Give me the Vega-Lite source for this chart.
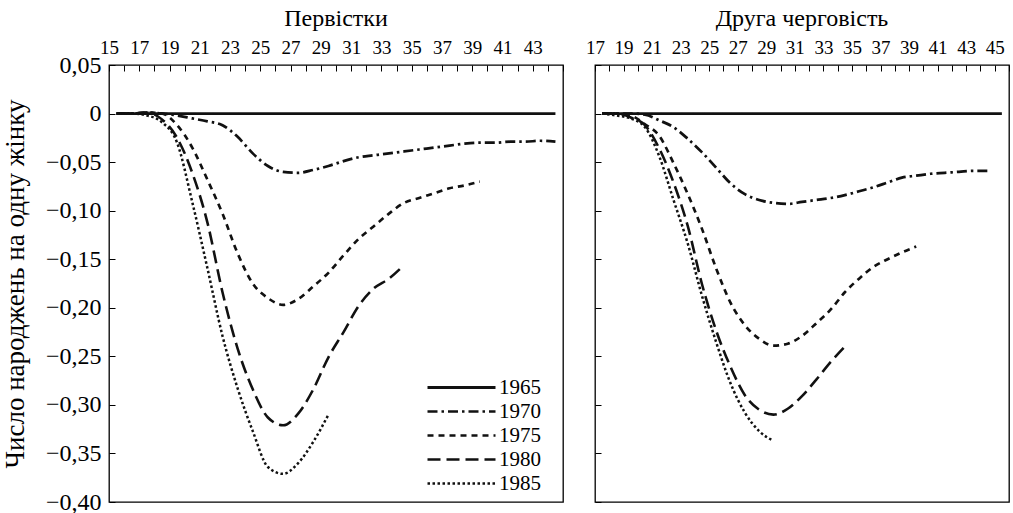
{
  "$schema": "https://vega.github.io/schema/vega-lite/v6.json",
  "background": "white",
  "padding": {"left": 0, "top": 6, "right": 5, "bottom": 5},
  "config": {
    "font": "Liberation Serif",
    "view": {"stroke": "#000", "strokeWidth": 1.3},
    "axis": {"tickColor": "#000", "labelColor": "#000", "titleColor": "#000", "tickWidth": 1, "grid": false, "domain": false, "labelFont": "Liberation Serif", "titleFont": "Liberation Serif", "titleFontWeight": "normal"},
    "legend": {"labelFont": "Liberation Serif"},
    "title": {"font": "Liberation Serif", "fontWeight": "normal", "color": "#000", "fontSize": 24, "frame": "group", "offset": 7},
    "concat": {"spacing": 19}
  },
  "data": {"values": [
    {"p":1,"y":"1965","a":15,"v":0},{"p":1,"y":"1965","a":16,"v":0},{"p":1,"y":"1965","a":17,"v":0},{"p":1,"y":"1965","a":18,"v":0},{"p":1,"y":"1965","a":19,"v":0},{"p":1,"y":"1965","a":20,"v":0},{"p":1,"y":"1965","a":21,"v":0},{"p":1,"y":"1965","a":22,"v":0},{"p":1,"y":"1965","a":23,"v":0},{"p":1,"y":"1965","a":24,"v":0},{"p":1,"y":"1965","a":25,"v":0},{"p":1,"y":"1965","a":26,"v":0},{"p":1,"y":"1965","a":27,"v":0},{"p":1,"y":"1965","a":28,"v":0},{"p":1,"y":"1965","a":29,"v":0},{"p":1,"y":"1965","a":30,"v":0},{"p":1,"y":"1965","a":31,"v":0},{"p":1,"y":"1965","a":32,"v":0},{"p":1,"y":"1965","a":33,"v":0},{"p":1,"y":"1965","a":34,"v":0},{"p":1,"y":"1965","a":35,"v":0},{"p":1,"y":"1965","a":36,"v":0},{"p":1,"y":"1965","a":37,"v":0},{"p":1,"y":"1965","a":38,"v":0},{"p":1,"y":"1965","a":39,"v":0},{"p":1,"y":"1965","a":40,"v":0},{"p":1,"y":"1965","a":41,"v":0},{"p":1,"y":"1965","a":42,"v":0},{"p":1,"y":"1965","a":43,"v":0},{"p":1,"y":"1965","a":44,"v":0},
    {"p":1,"y":"1970","a":15,"v":0},{"p":1,"y":"1970","a":16,"v":0},{"p":1,"y":"1970","a":17,"v":0.001},{"p":1,"y":"1970","a":18,"v":0},{"p":1,"y":"1970","a":19,"v":-0.002},{"p":1,"y":"1970","a":20,"v":-0.005},{"p":1,"y":"1970","a":21,"v":-0.008},{"p":1,"y":"1970","a":22,"v":-0.012},{"p":1,"y":"1970","a":23,"v":-0.024},{"p":1,"y":"1970","a":24,"v":-0.041},{"p":1,"y":"1970","a":25,"v":-0.054},{"p":1,"y":"1970","a":26,"v":-0.060},{"p":1,"y":"1970","a":27,"v":-0.061},{"p":1,"y":"1970","a":28,"v":-0.058},{"p":1,"y":"1970","a":29,"v":-0.054},{"p":1,"y":"1970","a":30,"v":-0.049},{"p":1,"y":"1970","a":31,"v":-0.045},{"p":1,"y":"1970","a":32,"v":-0.043},{"p":1,"y":"1970","a":33,"v":-0.041},{"p":1,"y":"1970","a":34,"v":-0.039},{"p":1,"y":"1970","a":35,"v":-0.037},{"p":1,"y":"1970","a":36,"v":-0.035},{"p":1,"y":"1970","a":37,"v":-0.033},{"p":1,"y":"1970","a":38,"v":-0.031},{"p":1,"y":"1970","a":39,"v":-0.030},{"p":1,"y":"1970","a":40,"v":-0.030},{"p":1,"y":"1970","a":41,"v":-0.029},{"p":1,"y":"1970","a":42,"v":-0.029},{"p":1,"y":"1970","a":43,"v":-0.028},{"p":1,"y":"1970","a":44,"v":-0.029},
    {"p":1,"y":"1975","a":15,"v":0},{"p":1,"y":"1975","a":16,"v":0},{"p":1,"y":"1975","a":17,"v":0.001},{"p":1,"y":"1975","a":18,"v":0},{"p":1,"y":"1975","a":19,"v":-0.012},{"p":1,"y":"1975","a":20,"v":-0.035},{"p":1,"y":"1975","a":21,"v":-0.068},{"p":1,"y":"1975","a":22,"v":-0.103},{"p":1,"y":"1975","a":23,"v":-0.144},{"p":1,"y":"1975","a":24,"v":-0.175},{"p":1,"y":"1975","a":25,"v":-0.190},{"p":1,"y":"1975","a":26,"v":-0.197},{"p":1,"y":"1975","a":27,"v":-0.191},{"p":1,"y":"1975","a":28,"v":-0.178},{"p":1,"y":"1975","a":29,"v":-0.164},{"p":1,"y":"1975","a":30,"v":-0.146},{"p":1,"y":"1975","a":31,"v":-0.129},{"p":1,"y":"1975","a":32,"v":-0.116},{"p":1,"y":"1975","a":33,"v":-0.103},{"p":1,"y":"1975","a":34,"v":-0.092},{"p":1,"y":"1975","a":35,"v":-0.087},{"p":1,"y":"1975","a":36,"v":-0.082},{"p":1,"y":"1975","a":37,"v":-0.077},{"p":1,"y":"1975","a":38,"v":-0.074},{"p":1,"y":"1975","a":39,"v":-0.070},
    {"p":1,"y":"1980","a":15,"v":0},{"p":1,"y":"1980","a":16,"v":0},{"p":1,"y":"1980","a":17,"v":0.001},{"p":1,"y":"1980","a":18,"v":-0.006},{"p":1,"y":"1980","a":19,"v":-0.025},{"p":1,"y":"1980","a":20,"v":-0.061},{"p":1,"y":"1980","a":21,"v":-0.112},{"p":1,"y":"1980","a":22,"v":-0.184},{"p":1,"y":"1980","a":23,"v":-0.242},{"p":1,"y":"1980","a":24,"v":-0.284},{"p":1,"y":"1980","a":25,"v":-0.313},{"p":1,"y":"1980","a":26,"v":-0.321},{"p":1,"y":"1980","a":27,"v":-0.309},{"p":1,"y":"1980","a":28,"v":-0.284},{"p":1,"y":"1980","a":29,"v":-0.251},{"p":1,"y":"1980","a":30,"v":-0.225},{"p":1,"y":"1980","a":31,"v":-0.198},{"p":1,"y":"1980","a":32,"v":-0.180},{"p":1,"y":"1980","a":33,"v":-0.170},{"p":1,"y":"1980","a":34,"v":-0.156},
    {"p":1,"y":"1985","a":15,"v":0},{"p":1,"y":"1985","a":16,"v":0},{"p":1,"y":"1985","a":17,"v":-0.002},{"p":1,"y":"1985","a":18,"v":-0.009},{"p":1,"y":"1985","a":19,"v":-0.030},{"p":1,"y":"1985","a":20,"v":-0.091},{"p":1,"y":"1985","a":21,"v":-0.159},{"p":1,"y":"1985","a":22,"v":-0.229},{"p":1,"y":"1985","a":23,"v":-0.283},{"p":1,"y":"1985","a":24,"v":-0.327},{"p":1,"y":"1985","a":25,"v":-0.364},{"p":1,"y":"1985","a":26,"v":-0.371},{"p":1,"y":"1985","a":27,"v":-0.360},{"p":1,"y":"1985","a":28,"v":-0.338},{"p":1,"y":"1985","a":29,"v":-0.310},
    {"p":2,"y":"1965","a":17,"v":0},{"p":2,"y":"1965","a":18,"v":0},{"p":2,"y":"1965","a":19,"v":0},{"p":2,"y":"1965","a":20,"v":0},{"p":2,"y":"1965","a":21,"v":0},{"p":2,"y":"1965","a":22,"v":0},{"p":2,"y":"1965","a":23,"v":0},{"p":2,"y":"1965","a":24,"v":0},{"p":2,"y":"1965","a":25,"v":0},{"p":2,"y":"1965","a":26,"v":0},{"p":2,"y":"1965","a":27,"v":0},{"p":2,"y":"1965","a":28,"v":0},{"p":2,"y":"1965","a":29,"v":0},{"p":2,"y":"1965","a":30,"v":0},{"p":2,"y":"1965","a":31,"v":0},{"p":2,"y":"1965","a":32,"v":0},{"p":2,"y":"1965","a":33,"v":0},{"p":2,"y":"1965","a":34,"v":0},{"p":2,"y":"1965","a":35,"v":0},{"p":2,"y":"1965","a":36,"v":0},{"p":2,"y":"1965","a":37,"v":0},{"p":2,"y":"1965","a":38,"v":0},{"p":2,"y":"1965","a":39,"v":0},{"p":2,"y":"1965","a":40,"v":0},{"p":2,"y":"1965","a":41,"v":0},{"p":2,"y":"1965","a":42,"v":0},{"p":2,"y":"1965","a":43,"v":0},{"p":2,"y":"1965","a":44,"v":0},{"p":2,"y":"1965","a":45,"v":0},
    {"p":2,"y":"1970","a":17,"v":0},{"p":2,"y":"1970","a":18,"v":0},{"p":2,"y":"1970","a":19,"v":0},{"p":2,"y":"1970","a":20,"v":-0.001},{"p":2,"y":"1970","a":21,"v":-0.007},{"p":2,"y":"1970","a":22,"v":-0.014},{"p":2,"y":"1970","a":23,"v":-0.026},{"p":2,"y":"1970","a":24,"v":-0.040},{"p":2,"y":"1970","a":25,"v":-0.056},{"p":2,"y":"1970","a":26,"v":-0.072},{"p":2,"y":"1970","a":27,"v":-0.083},{"p":2,"y":"1970","a":28,"v":-0.089},{"p":2,"y":"1970","a":29,"v":-0.092},{"p":2,"y":"1970","a":30,"v":-0.093},{"p":2,"y":"1970","a":31,"v":-0.091},{"p":2,"y":"1970","a":32,"v":-0.089},{"p":2,"y":"1970","a":33,"v":-0.087},{"p":2,"y":"1970","a":34,"v":-0.084},{"p":2,"y":"1970","a":35,"v":-0.080},{"p":2,"y":"1970","a":36,"v":-0.076},{"p":2,"y":"1970","a":37,"v":-0.071},{"p":2,"y":"1970","a":38,"v":-0.066},{"p":2,"y":"1970","a":39,"v":-0.064},{"p":2,"y":"1970","a":40,"v":-0.062},{"p":2,"y":"1970","a":41,"v":-0.061},{"p":2,"y":"1970","a":42,"v":-0.060},{"p":2,"y":"1970","a":43,"v":-0.059},{"p":2,"y":"1970","a":44,"v":-0.059},
    {"p":2,"y":"1975","a":17,"v":0},{"p":2,"y":"1975","a":18,"v":0},{"p":2,"y":"1975","a":19,"v":-0.002},{"p":2,"y":"1975","a":20,"v":-0.011},{"p":2,"y":"1975","a":21,"v":-0.023},{"p":2,"y":"1975","a":22,"v":-0.051},{"p":2,"y":"1975","a":23,"v":-0.083},{"p":2,"y":"1975","a":24,"v":-0.119},{"p":2,"y":"1975","a":25,"v":-0.160},{"p":2,"y":"1975","a":26,"v":-0.195},{"p":2,"y":"1975","a":27,"v":-0.218},{"p":2,"y":"1975","a":28,"v":-0.232},{"p":2,"y":"1975","a":29,"v":-0.239},{"p":2,"y":"1975","a":30,"v":-0.237},{"p":2,"y":"1975","a":31,"v":-0.229},{"p":2,"y":"1975","a":32,"v":-0.216},{"p":2,"y":"1975","a":33,"v":-0.202},{"p":2,"y":"1975","a":34,"v":-0.184},{"p":2,"y":"1975","a":35,"v":-0.170},{"p":2,"y":"1975","a":36,"v":-0.158},{"p":2,"y":"1975","a":37,"v":-0.150},{"p":2,"y":"1975","a":38,"v":-0.143},{"p":2,"y":"1975","a":39,"v":-0.137},
    {"p":2,"y":"1980","a":17,"v":0},{"p":2,"y":"1980","a":18,"v":0},{"p":2,"y":"1980","a":19,"v":-0.004},{"p":2,"y":"1980","a":20,"v":-0.012},{"p":2,"y":"1980","a":21,"v":-0.036},{"p":2,"y":"1980","a":22,"v":-0.071},{"p":2,"y":"1980","a":23,"v":-0.116},{"p":2,"y":"1980","a":24,"v":-0.176},{"p":2,"y":"1980","a":25,"v":-0.224},{"p":2,"y":"1980","a":26,"v":-0.261},{"p":2,"y":"1980","a":27,"v":-0.290},{"p":2,"y":"1980","a":28,"v":-0.305},{"p":2,"y":"1980","a":29,"v":-0.310},{"p":2,"y":"1980","a":30,"v":-0.304},{"p":2,"y":"1980","a":31,"v":-0.291},{"p":2,"y":"1980","a":32,"v":-0.274},{"p":2,"y":"1980","a":33,"v":-0.256},{"p":2,"y":"1980","a":34,"v":-0.240},
    {"p":2,"y":"1985","a":17,"v":0},{"p":2,"y":"1985","a":18,"v":-0.002},{"p":2,"y":"1985","a":19,"v":-0.005},{"p":2,"y":"1985","a":20,"v":-0.014},{"p":2,"y":"1985","a":21,"v":-0.044},{"p":2,"y":"1985","a":22,"v":-0.089},{"p":2,"y":"1985","a":23,"v":-0.134},{"p":2,"y":"1985","a":24,"v":-0.188},{"p":2,"y":"1985","a":25,"v":-0.236},{"p":2,"y":"1985","a":26,"v":-0.278},{"p":2,"y":"1985","a":27,"v":-0.308},{"p":2,"y":"1985","a":28,"v":-0.327},{"p":2,"y":"1985","a":29,"v":-0.337}
  ]},
  "resolve": {"legend": {"strokeDash": "independent", "strokeWidth": "independent"}},
  "hconcat": [
    {
      "title": {"text": "Первістки", "font": "Liberation Serif"},
      "width": 454,
      "height": 437,
      "transform": [{"filter": "datum.p == 1"}],
      "mark": {"type": "line", "interpolate": "monotone", "color": "#111"},
      "encoding": {
        "x": {"field": "a", "type": "quantitative",
          "scale": {"domain": [14.5, 44.5], "nice": false, "zero": false},
          "axis": {"orient": "top", "title": null,
            "values": [14.5,15.5,16.5,17.5,18.5,19.5,20.5,21.5,22.5,23.5,24.5,25.5,26.5,27.5,28.5,29.5,30.5,31.5,32.5,33.5,34.5,35.5,36.5,37.5,38.5,39.5,40.5,41.5,42.5,43.5,44.5],
            "labelExpr": "((datum.value + 0.5) % 2 == 1 && datum.value < 44) ? '' + (datum.value + 0.5) : ''",
            "labelDx": 7.57, "tickSize": -6, "labelPadding": 14, "labelFontSize": 19, "labelFont": "Liberation Serif", "labelOverlap": false, "labelBound": false, "labelFlush": false}},
        "y": {"field": "v", "type": "quantitative",
          "scale": {"domain": [-0.4, 0.05], "nice": false, "zero": false},
          "axis": {"title": "Число народжень на одну жінку", "titleFontSize": 27, "titlePadding": 16, "titleFont": "Liberation Serif", "titleFontWeight": "normal",
            "values": [0.05,0,-0.05,-0.1,-0.15,-0.2,-0.25,-0.3,-0.35,-0.4],
            "labelExpr": "abs(datum.value) < 1e-9 ? '0' : replace(format(datum.value, '.2f'), '.', ',')",
            "tickSize": -6, "labelPadding": 14, "labelFontSize": 24, "labelFont": "Liberation Serif", "labelOverlap": false, "labelBound": false, "labelFlush": false}},
        "strokeDash": {"field": "y", "type": "nominal",
          "scale": {"domain": ["1965","1970","1975","1980","1985"], "range": [[1,0],[10,4,2.5,4],[6,5],[13,6],[2.5,2.5]]},
          "legend": {"title": null, "orient": "none", "legendX": 342, "legendY": 312, "symbolType": "M-4,0H4", "symbolSize": 289, "symbolStrokeColor": "#111", "symbolStrokeWidth": 2.5, "symbolFillColor": "transparent", "rowPadding": 2, "labelFontSize": 21, "labelFont": "Liberation Serif", "labelColor": "#000", "labelOffset": 27}},
        "strokeWidth": {"field": "y", "type": "nominal",
          "scale": {"domain": ["1965","1970","1975","1980","1985"], "range": [2.8, 2.5, 2.5, 2.6, 2.6]},
          "legend": null}
      }
    },
    {
      "title": {"text": "Друга черговість", "font": "Liberation Serif"},
      "width": 414,
      "height": 437,
      "transform": [{"filter": "datum.p == 2"}],
      "mark": {"type": "line", "interpolate": "monotone", "color": "#111"},
      "encoding": {
        "x": {"field": "a", "type": "quantitative",
          "scale": {"domain": [16.5, 45.5], "nice": false, "zero": false},
          "axis": {"orient": "top", "title": null,
            "values": [16.5,17.5,18.5,19.5,20.5,21.5,22.5,23.5,24.5,25.5,26.5,27.5,28.5,29.5,30.5,31.5,32.5,33.5,34.5,35.5,36.5,37.5,38.5,39.5,40.5,41.5,42.5,43.5,44.5,45.5],
            "labelExpr": "((datum.value + 0.5) % 2 == 1 && datum.value < 45) ? '' + (datum.value + 0.5) : ''",
            "labelDx": 7.14, "tickSize": -6, "labelPadding": 14, "labelFontSize": 19, "labelFont": "Liberation Serif", "labelOverlap": false, "labelBound": false, "labelFlush": false}},
        "y": {"field": "v", "type": "quantitative",
          "scale": {"domain": [-0.4, 0.05], "nice": false, "zero": false},
          "axis": {"title": null, "labels": false,
            "values": [0.05,0,-0.05,-0.1,-0.15,-0.2,-0.25,-0.3,-0.35,-0.4],
            "tickSize": -6}},
        "strokeDash": {"field": "y", "type": "nominal",
          "scale": {"domain": ["1965","1970","1975","1980","1985"], "range": [[1,0],[10,4,2.5,4],[6,5],[13,6],[2.5,2.5]]},
          "legend": null},
        "strokeWidth": {"field": "y", "type": "nominal",
          "scale": {"domain": ["1965","1970","1975","1980","1985"], "range": [2.8, 2.5, 2.5, 2.6, 2.6]},
          "legend": null}
      }
    }
  ]
}
